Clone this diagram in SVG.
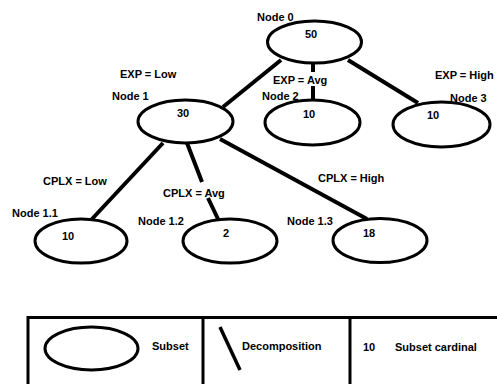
<svg xmlns="http://www.w3.org/2000/svg" width="497" height="384" viewBox="0 0 497 384">
<style>
text { font-family: "Liberation Sans", Arial, sans-serif; font-weight: bold; font-size: 11px; fill: #000; }
.node ellipse { fill: #fff; stroke: #000; stroke-width: 3; }
.edge { stroke: #000; stroke-width: 4; fill: none; }
.box { fill: none; stroke: #000; stroke-width: 3; }
</style>
<rect width="497" height="384" fill="#fff"/>
<g id="connectors">
  <line class="edge" x1="281" y1="60" x2="223" y2="107"/>
  <path class="edge" d="M313 63 V72 M313 86 V100"/>
  <line class="edge" x1="348" y1="60" x2="418" y2="103"/>
  <line class="edge" x1="163" y1="143" x2="92" y2="219"/>
  <path class="edge" d="M187 143 L202 182 M208 198 L218 219"/>
  <line class="edge" x1="220" y1="139" x2="367" y2="219"/>
  <text x="120" y="78">EXP = Low</text>
  <text x="273" y="84">EXP = Avg</text>
  <text x="435" y="79">EXP = High</text>
  <text x="43" y="185">CPLX = Low</text>
  <text x="163" y="197">CPLX = Avg</text>
  <text x="318" y="182">CPLX = High</text>
</g>
<g id="node0" class="node">
  <ellipse cx="314.5" cy="42" rx="47" ry="21"/>
  <text x="305" y="38">50</text>
  <text x="257" y="21">Node 0</text>
</g>
<g id="node1" class="node">
  <ellipse cx="185.5" cy="121.5" rx="47.5" ry="21.5"/>
  <text x="177" y="117">30</text>
  <text x="112" y="100">Node 1</text>
</g>
<g id="node2" class="node">
  <ellipse cx="312.5" cy="122.5" rx="47.5" ry="22.5"/>
  <text x="303" y="118">10</text>
  <text x="262" y="100">Node 2</text>
</g>
<g id="node3" class="node">
  <ellipse cx="441.5" cy="124.5" rx="48.5" ry="22.5"/>
  <text x="427" y="119">10</text>
  <text x="450" y="102">Node 3</text>
</g>
<g id="node1_1" class="node">
  <ellipse cx="81" cy="241" rx="46" ry="22"/>
  <text x="62" y="240">10</text>
  <text x="12" y="217">Node 1.1</text>
</g>
<g id="node1_2" class="node">
  <ellipse cx="230" cy="241" rx="47" ry="22"/>
  <text x="223" y="237">2</text>
  <text x="138" y="225">Node 1.2</text>
</g>
<g id="node1_3" class="node">
  <ellipse cx="380" cy="240.5" rx="47" ry="22"/>
  <text x="363" y="237">18</text>
  <text x="287" y="225">Node 1.3</text>
</g>
<g id="legend">
  <rect class="box" x="28" y="317.5" width="480" height="80"/>
  <line class="box" x1="203" y1="317" x2="203" y2="384"/>
  <line class="box" x1="350" y1="317" x2="350" y2="384"/>
  <ellipse cx="91.5" cy="348.5" rx="46.5" ry="21.5" fill="none" stroke="#000" stroke-width="3"/>
  <text x="152" y="350">Subset</text>
  <line x1="220" y1="327" x2="240" y2="370" stroke="#000" stroke-width="3.5"/>
  <text x="242" y="350">Decomposition</text>
  <text x="363" y="351">10</text>
  <text x="395" y="351">Subset cardinal</text>
</g>
</svg>
